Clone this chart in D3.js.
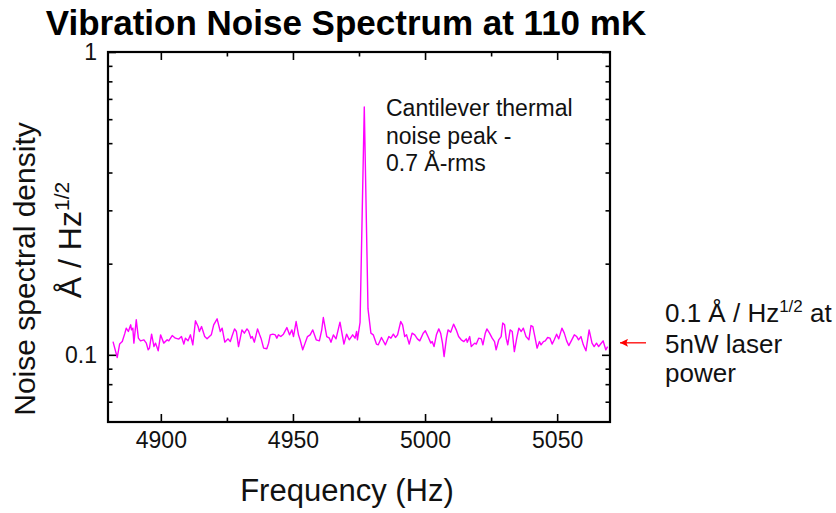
<!DOCTYPE html>
<html>
<head>
<meta charset="utf-8">
<script src="https://cdn.jsdelivr.net/npm/d3@7"></script>
<style>
  body { margin: 0; background: #fff; }
  svg { font-family: "Liberation Sans", Arial, sans-serif; }
</style>
</head>
<body>
<svg id="chart" width="836" height="513"></svg>
<script>
// frequency (Hz) of each sample
const freq = [
  4881.9, 4883.5, 4884.4, 4885.4, 4886.4, 4886.9, 4887.7, 4888.6, 4888.9, 4889.4,
  4889.8, 4890.7, 4891.5, 4892.3, 4893.6, 4894.5, 4895.2, 4895.7, 4896.5, 4897.4,
  4898.0, 4899.0, 4899.9, 4901.1, 4902.4, 4903.0, 4904.3, 4905.5, 4906.8, 4907.8,
  4908.7, 4909.3, 4910.3, 4911.2, 4912.1, 4913.1, 4914.1, 4914.6, 4915.4, 4916.6,
  4917.5, 4918.4, 4919.1, 4920.0, 4921.3, 4922.5, 4923.2, 4924.2, 4925.4, 4926.3,
  4926.9, 4927.9, 4928.6, 4929.4, 4930.7, 4931.6, 4932.6, 4933.2, 4934.1, 4934.6,
  4935.4, 4936.6, 4937.4, 4937.9, 4938.9, 4940.1, 4940.8, 4941.4, 4942.4, 4943.3,
  4943.9, 4944.5, 4945.4, 4946.4, 4947.7, 4948.7, 4949.6, 4950.2, 4951.2, 4952.1,
  4952.7, 4953.7, 4954.6, 4955.5, 4956.5, 4957.5, 4958.8, 4960.0, 4960.9, 4961.5,
  4962.8, 4963.8, 4964.4, 4965.3, 4966.3, 4967.8, 4969.3, 4970.3, 4971.3, 4972.6,
  4973.5, 4974.1, 4974.4, 4975.4, 4977.0, 4978.4, 4979.5, 4980.4, 4981.6, 4982.3,
  4983.5, 4985.0, 4986.3, 4987.1, 4988.0, 4988.8, 4989.6, 4990.8, 4991.5, 4992.3,
  4993.0, 4994.0, 4995.1, 4996.1, 4997.1, 4998.0, 4999.3, 5000.1, 5001.1, 5002.2,
  5002.7, 5003.4, 5004.3, 5005.2, 5005.9, 5006.6, 5007.2, 5008.1, 5008.7, 5009.7,
  5010.8, 5011.8, 5012.7, 5013.7, 5014.7, 5015.6, 5016.0, 5016.9, 5017.5, 5018.8,
  5019.4, 5020.3, 5021.3, 5021.9, 5022.8, 5023.4, 5024.4, 5025.4, 5026.3, 5026.9,
  5027.9, 5028.8, 5029.4, 5030.1, 5030.7, 5031.3, 5032.2, 5033.0, 5033.8, 5034.7,
  5035.5, 5036.4, 5037.2, 5038.2, 5039.3, 5040.1, 5040.8, 5041.8, 5042.4, 5043.3,
  5043.9, 5044.8, 5045.5, 5046.4, 5047.3, 5048.1, 5048.9, 5049.8, 5050.6, 5051.8,
  5052.7, 5053.6, 5054.4, 5055.2, 5056.5, 5057.4, 5058.1, 5059.0, 5059.9, 5060.9,
  5062.1, 5063.2, 5064.0, 5064.9, 5065.7, 5067.4, 5068.4, 5069.1
];

// noise spectral density (Å / Hz^1/2)
const density = [
  0.1106, 0.0980, 0.1085, 0.1106, 0.1179, 0.1225, 0.1194, 0.1256, 0.1209, 0.1225,
  0.1093, 0.1305, 0.1135, 0.1112, 0.1121, 0.1093, 0.1039, 0.1052, 0.1170, 0.1065,
  0.1093, 0.1031, 0.1164, 0.1093, 0.1121, 0.1112, 0.1158, 0.1135, 0.1127, 0.1149,
  0.1085, 0.1135, 0.1112, 0.1164, 0.1079, 0.1295, 0.1240, 0.1194, 0.1240, 0.1149,
  0.1129, 0.1149, 0.1164, 0.1256, 0.1315, 0.1194, 0.1225, 0.1101, 0.1129, 0.1106,
  0.1149, 0.1218, 0.1194, 0.1065, 0.1209, 0.1179, 0.1218, 0.1200, 0.1135, 0.1149,
  0.1101, 0.1218, 0.1164, 0.1135, 0.1052, 0.1047, 0.1093, 0.1164, 0.1170, 0.1164,
  0.1135, 0.1164, 0.1149, 0.1170, 0.1230, 0.1164, 0.1209, 0.1149, 0.1288, 0.1164,
  0.1121, 0.1039, 0.1093, 0.1149, 0.1164, 0.1209, 0.1121, 0.1112, 0.1209, 0.1328,
  0.1149, 0.1135, 0.1101, 0.1164, 0.1129, 0.1282, 0.1085, 0.1170, 0.1121, 0.1164,
  0.1135, 0.1194, 0.1121, 0.1280, 0.6580, 0.1420, 0.1179, 0.1164, 0.1085, 0.1079,
  0.1141, 0.1079, 0.1149, 0.1135, 0.1170, 0.1141, 0.1164, 0.1288, 0.1256, 0.1149,
  0.1164, 0.1085, 0.1179, 0.1164, 0.1129, 0.1112, 0.1179, 0.1200, 0.1149, 0.1093,
  0.1106, 0.1065, 0.1164, 0.1218, 0.1179, 0.1093, 0.0987, 0.1135, 0.1209, 0.1188,
  0.1263, 0.1209, 0.1149, 0.1121, 0.1106, 0.1129, 0.1101, 0.1149, 0.1065, 0.1093,
  0.1085, 0.1135, 0.1129, 0.1079, 0.1179, 0.1218, 0.1179, 0.1135, 0.1106, 0.1039,
  0.1121, 0.1149, 0.1273, 0.1256, 0.1135, 0.1079, 0.1209, 0.1194, 0.1025, 0.1135,
  0.1225, 0.1194, 0.1225, 0.1149, 0.1121, 0.1249, 0.1240, 0.1121, 0.1052, 0.1106,
  0.1079, 0.1106, 0.1112, 0.1141, 0.1135, 0.1085, 0.1121, 0.1170, 0.1129, 0.1225,
  0.1179, 0.1112, 0.1073, 0.1106, 0.1164, 0.1149, 0.1121, 0.1149, 0.1079, 0.1031,
  0.1209, 0.1093, 0.1065, 0.1093, 0.1065, 0.1112, 0.1039, 0.1065
];

const xMajor = [4900, 4950, 5000, 5050];
const xMinor = [4925, 4975, 5025];
const yMajor = [0.1, 1];
const yMajorLabels = ["0.1", "1"];
const yMinor = [0.07, 0.08, 0.09, 0.2, 0.3, 0.4, 0.5, 0.6, 0.7, 0.8, 0.9];

const peakNote = ["Cantilever thermal", "noise peak -", "0.7 Å-rms"];
const levelNote = ["5nW laser", "power"];
const noiseLevel = 0.1;

const svg = d3.select("#chart");
const plotL = 108, plotR = 610, plotT = 52, plotB = 422;

const x = d3.scaleLinear().domain([4880, 5070]).range([plotL, plotR]);
const y = d3.scaleLog().domain([0.06, 1]).range([plotB, plotT]);

function styleAxis(g) {
  g.select(".domain").remove();
  g.selectAll(".tick line").attr("stroke", "#000").attr("stroke-width", 1.6);
  g.selectAll(".tick text")
    .attr("fill", "#111")
    .style("font-family", "'Liberation Sans', Arial, sans-serif")
    .style("font-size", "23px");
}

// bottom axis
svg.append("g")
  .attr("transform", `translate(0,${plotB})`)
  .call(d3.axisBottom(x).tickValues(xMajor).tickSize(-8).tickPadding(10).tickFormat(d3.format("d")))
  .call(styleAxis);
svg.append("g")
  .attr("transform", `translate(0,${plotB})`)
  .call(d3.axisBottom(x).tickValues(xMinor).tickSize(-4.5).tickFormat(""))
  .call(styleAxis);

// top axis
svg.append("g")
  .attr("transform", `translate(0,${plotT})`)
  .call(d3.axisTop(x).tickValues(xMajor).tickSize(-8).tickFormat(""))
  .call(styleAxis);
svg.append("g")
  .attr("transform", `translate(0,${plotT})`)
  .call(d3.axisTop(x).tickValues(xMinor).tickSize(-4.5).tickFormat(""))
  .call(styleAxis);

// left axis
svg.append("g")
  .attr("transform", `translate(${plotL},0)`)
  .call(d3.axisLeft(y).tickValues(yMajor).tickSize(-8).tickPadding(11)
    .tickFormat((d, i) => yMajorLabels[i]))
  .call(styleAxis);
svg.append("g")
  .attr("transform", `translate(${plotL},0)`)
  .call(d3.axisLeft(y).tickValues(yMinor).tickSize(-4.5).tickFormat(""))
  .call(styleAxis);

// right axis
svg.append("g")
  .attr("transform", `translate(${plotR},0)`)
  .call(d3.axisRight(y).tickValues(yMajor).tickSize(-8).tickFormat(""))
  .call(styleAxis);
svg.append("g")
  .attr("transform", `translate(${plotR},0)`)
  .call(d3.axisRight(y).tickValues(yMinor).tickSize(-4.5).tickFormat(""))
  .call(styleAxis);

// frame
svg.append("rect")
  .attr("x", plotL).attr("y", plotT)
  .attr("width", plotR - plotL).attr("height", plotB - plotT)
  .attr("fill", "none").attr("stroke", "#000").attr("stroke-width", 2.2);

// trace
const data = freq.map((f, i) => ({ f: f, v: density[i] }));
const line = d3.line().x(d => x(d.f)).y(d => y(d.v));
svg.append("path")
  .datum(data)
  .attr("fill", "none")
  .attr("stroke", "#ff00ff")
  .attr("stroke-width", 1.4)
  .attr("stroke-linejoin", "round")
  .attr("d", line);

// title
svg.append("text")
  .attr("x", 346).attr("y", 35)
  .attr("text-anchor", "middle")
  .style("font-size", "35px").style("font-weight", "bold")
  .attr("fill", "#000")
  .text("Vibration Noise Spectrum at 110 mK");

// x label
svg.append("text")
  .attr("x", 347).attr("y", 501)
  .attr("text-anchor", "middle")
  .style("font-size", "31px")
  .attr("fill", "#111")
  .text("Frequency (Hz)");

// y label (two lines)
svg.append("text")
  .attr("transform", "translate(35,269) rotate(-90)")
  .attr("text-anchor", "middle")
  .style("font-size", "30px")
  .attr("fill", "#111")
  .text("Noise spectral density");

const yl2 = svg.append("text")
  .attr("transform", "translate(81,240) rotate(-90)")
  .attr("text-anchor", "middle")
  .style("font-size", "32px")
  .attr("fill", "#111");
yl2.append("tspan").text("Å / Hz");
yl2.append("tspan").attr("dy", -12).style("font-size", "21px").text("1/2");

// peak annotation
svg.append("text")
  .attr("fill", "#111")
  .style("font-size", "23px")
  .selectAll("tspan")
  .data(peakNote)
  .join("tspan")
  .attr("x", 386)
  .attr("y", (d, i) => 116 + i * 27.5)
  .text(d => d);

// noise level annotation
const n1 = svg.append("text")
  .attr("x", 665).attr("y", 322)
  .attr("fill", "#111")
  .style("font-size", "26px");
n1.append("tspan").text("0.1 Å / Hz");
n1.append("tspan").attr("dy", -10).style("font-size", "17px").text("1/2");
n1.append("tspan").attr("dy", 10).text(" at");

svg.append("text")
  .attr("fill", "#111")
  .style("font-size", "26px")
  .selectAll("tspan")
  .data(levelNote)
  .join("tspan")
  .attr("x", 665)
  .attr("y", (d, i) => 353 + i * 28.5)
  .text(d => d);

// red arrow pointing at the 0.1 level
svg.append("defs").append("marker")
  .attr("id", "ah")
  .attr("viewBox", "0 0 10 10")
  .attr("refX", 10).attr("refY", 5)
  .attr("markerWidth", 9).attr("markerHeight", 8)
  .attr("markerUnits", "userSpaceOnUse")
  .attr("orient", "auto")
  .append("path")
  .attr("d", "M0,0 L10,5 L0,10 L2,5 z")
  .attr("fill", "#ff0000");

const arrowY = y(noiseLevel) - 12;
svg.append("line")
  .attr("x1", 646).attr("y1", arrowY)
  .attr("x2", 620).attr("y2", arrowY)
  .attr("stroke", "#ff0000").attr("stroke-width", 1.3)
  .attr("marker-end", "url(#ah)");
</script>
</body>
</html>
